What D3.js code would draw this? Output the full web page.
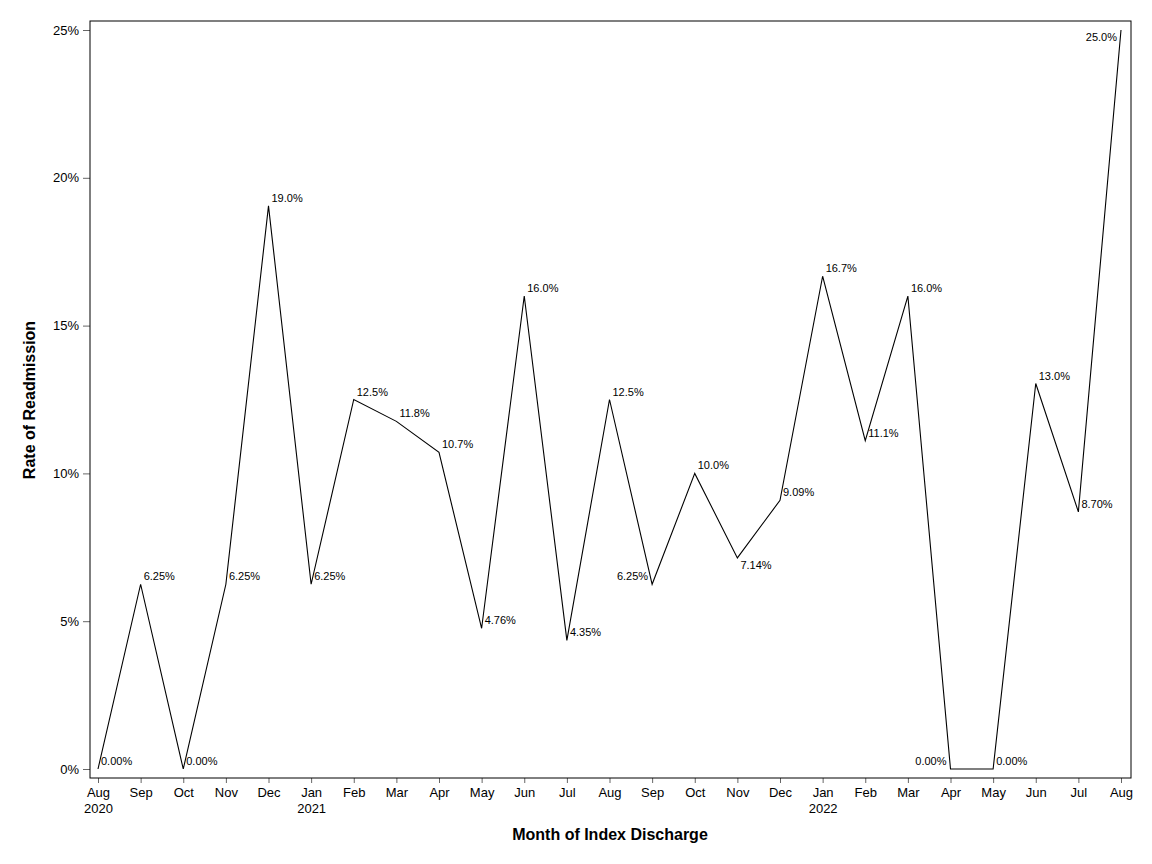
<!DOCTYPE html>
<html>
<head>
<meta charset="utf-8">
<script src="https://cdn.jsdelivr.net/npm/d3@7"></script>
<style>
  body { margin: 0; background: #fff; }
  svg text { font-family: "Liberation Sans", Arial, sans-serif; }
</style>
</head>
<body>
<svg id="chart" width="1152" height="864"></svg>
<script>
// month of index discharge, Aug 2020 .. Aug 2022
const months = ["Aug", "Sep", "Oct", "Nov", "Dec", "Jan", "Feb", "Mar", "Apr", "May", "Jun", "Jul",
  "Aug", "Sep", "Oct", "Nov", "Dec", "Jan", "Feb", "Mar", "Apr", "May", "Jun", "Jul", "Aug"];
const years = ["2020", "", "", "", "", "2021", "", "", "", "", "", "",
  "", "", "", "", "", "2022", "", "", "", "", "", "", ""];

// readmission rate (%)
const rates = [0, 6.25, 0, 6.25, 19.05, 6.25, 12.5, 11.76, 10.71, 4.76, 16.0, 4.35,
  12.5, 6.25, 10.0, 7.14, 9.09, 16.67, 11.11, 16.0, 0, 0, 13.04, 8.70, 25.0];
const rateLabels = ["0.00%", "6.25%", "0.00%", "6.25%", "19.0%", "6.25%", "12.5%", "11.8%", "10.7%",
  "4.76%", "16.0%", "4.35%", "12.5%", "6.25%", "10.0%", "7.14%", "9.09%", "16.7%", "11.1%",
  "16.0%", "0.00%", "0.00%", "13.0%", "8.70%", "25.0%"];
// where each data label sits relative to its point
const labelPos = ["ne", "ne", "ne", "ne", "ne", "ne", "ne", "ne", "ne", "ne", "ne", "ne",
  "ne", "w", "ne", "se", "ne", "ne", "ne", "ne", "w", "ne", "ne", "ne", "sw"];

const yTicks = [0, 5, 10, 15, 20, 25];

const svg = d3.select("#chart");

const frame = { left: 90, right: 1131, top: 21, bottom: 778 };

const x = d3.scaleLinear()
  .domain([0, months.length - 1])
  .range([98, 1121]);

const y = d3.scaleLinear()
  .domain([0, 25])
  .range([769, 30]);

// y axis ticks
const yAxis = svg.append("g")
  .attr("transform", `translate(${frame.left},0)`)
  .call(d3.axisLeft(y).tickValues(yTicks).tickSize(7).tickPadding(4).tickFormat(d => d + "%"));
yAxis.select(".domain").remove();
yAxis.selectAll("line").attr("stroke", "#666");
yAxis.selectAll("text")
  .attr("font-size", 13)
  .attr("fill", "#000")
  .attr("font-family", "Liberation Sans, Arial, sans-serif");

// x axis ticks
const xAxis = svg.append("g")
  .attr("transform", `translate(0,${frame.bottom})`)
  .call(d3.axisBottom(x).tickValues(d3.range(months.length)).tickSize(5).tickFormat(""));
xAxis.select(".domain").remove();
xAxis.selectAll("line").attr("stroke", "#666");

const xLabels = xAxis.selectAll(".tick")
  .append("text")
  .attr("fill", "#000")
  .attr("font-size", 13)
  .attr("text-anchor", "middle")
  .attr("font-family", "Liberation Sans, Arial, sans-serif");
xLabels.append("tspan")
  .attr("x", 0)
  .attr("y", 19)
  .text(i => months[i]);
xLabels.append("tspan")
  .attr("x", 0)
  .attr("y", 35)
  .text(i => years[i]);

// plot frame
svg.append("rect")
  .attr("x", frame.left)
  .attr("y", frame.top)
  .attr("width", frame.right - frame.left)
  .attr("height", frame.bottom - frame.top)
  .attr("fill", "none")
  .attr("stroke", "#000")
  .attr("stroke-width", 1);

// series line
const line = d3.line()
  .x((d, i) => x(i))
  .y(d => y(d));

svg.append("path")
  .datum(rates)
  .attr("d", line)
  .attr("fill", "none")
  .attr("stroke", "#000")
  .attr("stroke-width", 1.1);

// data labels
svg.selectAll("text.dlabel")
  .data(rates)
  .enter()
  .append("text")
  .attr("class", "dlabel")
  .attr("font-size", 11)
  .attr("fill", "#000")
  .attr("x", (d, i) => labelPos[i].includes("w") ? x(i) - 4 : x(i) + 3)
  .attr("y", (d, i) => labelPos[i].includes("s") ? y(d) + 11 : y(d) - 4)
  .attr("text-anchor", (d, i) => labelPos[i].includes("w") ? "end" : "start")
  .text((d, i) => rateLabels[i]);

// axis titles
svg.append("text")
  .attr("x", 610)
  .attr("y", 840)
  .attr("text-anchor", "middle")
  .attr("font-size", 16)
  .attr("font-weight", "bold")
  .text("Month of Index Discharge");

svg.append("text")
  .attr("transform", `translate(35,400) rotate(-90)`)
  .attr("text-anchor", "middle")
  .attr("font-size", 16)
  .attr("font-weight", "bold")
  .text("Rate of Readmission");
</script>
</body>
</html>
